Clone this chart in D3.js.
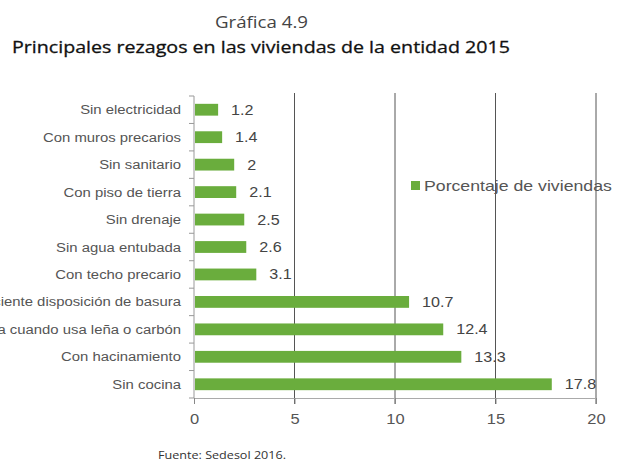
<!DOCTYPE html>
<html>
<head>
<meta charset="utf-8">
<script src="https://cdn.jsdelivr.net/npm/d3@7"></script>
<style>
  body { margin: 0; background: #fff; }
  svg { display: block; }
</style>
</head>
<body>
<div id="chart"></div>
<script>
// categories from top to bottom
const categories = [
    "Sin electricidad",
    "Con muros precarios",
    "Sin sanitario",
    "Con piso de tierra",
    "Sin drenaje",
    "Sin agua entubada",
    "Con techo precario",
    "Con deficiente disposición de basura",
    "Sin chimenea cuando usa leña o carbón",
    "Con hacinamiento",
    "Sin cocina"
];
const values = [1.2, 1.4, 2, 2.1, 2.5, 2.6, 3.1, 10.7, 12.4, 13.3, 17.8];
const valueLabels = ["1.2", "1.4", "2", "2.1", "2.5", "2.6", "3.1", "10.7", "12.4", "13.3", "17.8"];
const xTicks = [0, 5, 10, 15, 20];
const seriesName = "Porcentaje de viviendas";

const width = 625, height = 462;
const margin = {top: 96, right: 29, bottom: 64, left: 194};
const plotW = width - margin.left - margin.right;
const plotH = height - margin.top - margin.bottom;

// the source picture is a bit stretched sideways, so widen the text a little
function stretch(sel, k) {
    sel.each(function() {
        const len = this.getComputedTextLength();
        d3.select(this)
            .attr("textLength", len * k)
            .attr("lengthAdjust", "spacingAndGlyphs");
    });
}

const svg = d3.select("#chart").append("svg")
    .attr("width", width)
    .attr("height", height);

// titles
svg.append("text")
    .attr("x", 215).attr("y", 28)
    .attr("font-family", "Open Sans, sans-serif")
    .attr("font-size", 16)
    .attr("fill", "#444")
    .attr("textLength", 93)
    .attr("lengthAdjust", "spacingAndGlyphs")
    .text("Gráfica 4.9");

svg.append("text")
    .attr("x", 12).attr("y", 53)
    .attr("font-family", "Open Sans, sans-serif")
    .attr("font-size", 17)
    .attr("fill", "#111")
    .attr("stroke", "#111")
    .attr("stroke-width", 0.3)
    .attr("textLength", 498)
    .attr("lengthAdjust", "spacingAndGlyphs")
    .text("Principales rezagos en las viviendas de la entidad 2015");

const g = svg.append("g")
    .attr("transform", `translate(${margin.left},${margin.top})`);

const x = d3.scaleLinear().domain([0, 20]).range([0, plotW]);
const y = d3.scaleBand().domain(categories).range([0, plotH]).paddingInner(0.57).paddingOuter(0.285);

// vertical gridlines
g.selectAll(".grid")
    .data(xTicks.slice(1))
    .enter().append("line")
    .attr("class", "grid")
    .attr("x1", d => x(d)).attr("x2", d => x(d))
    .attr("y1", -3).attr("y2", plotH + 6)
    .attr("stroke", "#555")
    .attr("stroke-width", 1);

// bars
g.selectAll(".bar")
    .data(values)
    .enter().append("rect")
    .attr("class", "bar")
    .attr("x", 1)
    .attr("y", (d, i) => y(categories[i]))
    .attr("width", d => x(d) - 1)
    .attr("height", y.bandwidth())
    .attr("fill", "#6aad3d");

// value labels
g.selectAll(".val")
    .data(values)
    .enter().append("text")
    .attr("class", "val")
    .attr("x", d => x(d) + 13)
    .attr("y", (d, i) => y(categories[i]) + y.bandwidth() / 2)
    .attr("dy", "0.36em")
    .attr("font-family", "Liberation Sans, Arial, sans-serif")
    .attr("font-size", 14)
    .attr("fill", "#444")
    .text((d, i) => valueLabels[i])
    .call(stretch, 1.15);

// x axis
const xAxis = g.append("g")
    .attr("transform", `translate(0,${plotH})`)
    .call(d3.axisBottom(x).tickValues(xTicks).tickSize(6).tickPadding(9));
xAxis.select(".domain").attr("stroke", "#aaa");
xAxis.selectAll(".tick line").attr("stroke", "#888");
xAxis.selectAll("text")
    .attr("font-family", "Liberation Sans, Arial, sans-serif")
    .attr("font-size", 15)
    .attr("fill", "#555")
    .call(stretch, 1.1);

// y axis with ticks at band boundaries
const yAxis = g.append("g");
yAxis.append("line")
    .attr("x1", 0).attr("x2", 0)
    .attr("y1", 0).attr("y2", plotH)
    .attr("stroke", "#999");
const step = plotH / categories.length;
yAxis.selectAll(".ytick")
    .data(d3.range(categories.length + 1))
    .enter().append("line")
    .attr("class", "ytick")
    .attr("x1", -5).attr("x2", 0)
    .attr("y1", d => d * step).attr("y2", d => d * step)
    .attr("stroke", "#999");
yAxis.selectAll(".ylab")
    .data(categories)
    .enter().append("text")
    .attr("class", "ylab")
    .attr("x", -13)
    .attr("y", d => y(d) + y.bandwidth() / 2)
    .attr("dy", "0.36em")
    .attr("text-anchor", "end")
    .attr("font-family", "Liberation Sans, Arial, sans-serif")
    .attr("font-size", 12.5)
    .attr("fill", "#555")
    .text(d => d)
    .call(stretch, 1.19);

// legend
const legend = svg.append("g")
    .attr("transform", "translate(411,181)");
legend.append("rect")
    .attr("width", 9).attr("height", 9)
    .attr("fill", "#6aad3d");
legend.append("text")
    .attr("x", 13).attr("y", 5)
    .attr("dy", "0.36em")
    .attr("font-family", "Liberation Sans, Arial, sans-serif")
    .attr("font-size", 14.5)
    .attr("fill", "#555")
    .text(seriesName)
    .call(stretch, 1.22);

// source
svg.append("text")
    .attr("x", 158).attr("y", 459)
    .attr("font-family", "Open Sans, sans-serif")
    .attr("font-size", 10)
    .attr("fill", "#333")
    .attr("textLength", 128)
    .attr("lengthAdjust", "spacingAndGlyphs")
    .text("Fuente: Sedesol 2016.");
</script>
</body>
</html>
